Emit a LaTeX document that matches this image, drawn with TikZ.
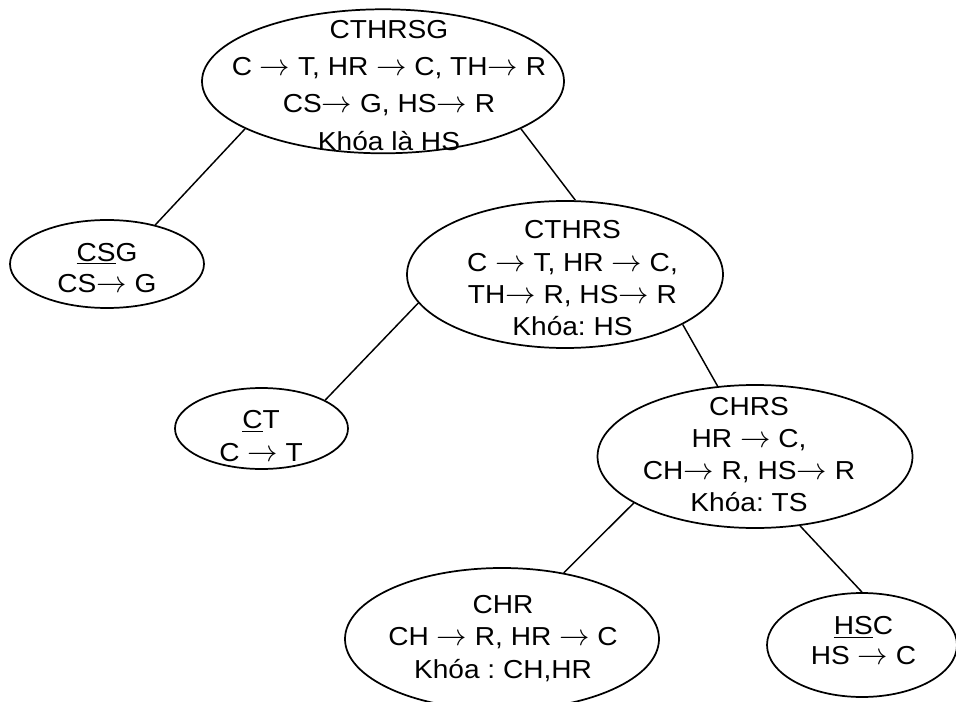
\documentclass[tikz,border=0pt]{standalone}
\usepackage{fontspec}
\setmainfont{Liberation Sans}[FakeStretch=1.08]
\usetikzlibrary{shapes.geometric}
\newcommand{\imp}{\scalebox{1.1}{$\rightarrow$}}
\frenchspacing
\begin{document}
\begin{tikzpicture}[x=0.75pt,y=-0.75pt,
  oval/.style 2 args={ellipse,draw,line width=1.3pt,inner sep=0pt,
    minimum width={#1*1.5pt},minimum height={#2*1.5pt}},
  txt/.style={align=center,inner sep=0pt,font=\fontsize{19.5}{#1}\selectfont},
  edge/.style={line width=1.1pt}]
\useasboundingbox (0,0) rectangle (956,702);

% decomposition tree: ellipses (half-axes given in px)
\node[oval={181}{72}]   (top)   at (383,81.3)  {};
\node[oval={97}{44}]    (csg)   at (107,264)   {};
\node[oval={158}{73.5}] (cthrs) at (565,274.5) {};
\node[oval={86.5}{40.5}](ct)    at (261.5,428.5) {};
\node[oval={157.5}{71.5}](chrs) at (755,456.5) {};
\node[oval={157}{71}]   (chr)   at (502,639)   {};
\node[oval={95}{52}]    (hsc)   at (862,645)   {};

% texts of the relations
\node[txt=28.1] (ttop) at (389,85.3)
  {CTHRSG\\C \imp{} T, HR \imp{} C, TH\imp{} R\\CS\imp{} G, HS\imp{} R\\Khóa là HS};
\node[txt=23.25] (tcsg) at (107,268)
  {\underline{CS}G\\CS\imp{} G};
\node[txt=24.2] (tcthrs) at (572.5,278.3)
  {CTHRS\\C \imp{} T, HR \imp{} C,\\TH\imp{} R, HS\imp{} R\\Khóa: HS};
\node[txt=24.4] (tct) at (261,436)
  {\underline{C}T\\C \imp{} T};
\node[txt=24.2] (tchrs) at (749,454.5)
  {CHRS\\HR \imp{} C,\\CH\imp{} R, HS\imp{} R\\Khóa: TS};
\node[txt=24.4] (tchr) at (503,638.3)
  {CHR\\CH \imp{} R, HR \imp{} C\\Khóa : CH,HR};
\node[txt=22.5] (thsc) at (863.5,640.8)
  {\underline{HS}C\\HS \imp{} C};

% connectors
\draw[edge] (top.199.8)   -- (csg.39.4);
\draw[edge] (top.341.1)   -- (cthrs.82.9);
\draw[edge] (cthrs.191.1) -- (ct.24.7);
\draw[edge] (cthrs.337)   -- (chrs.118.2);
\draw[edge] (chrs.201.8)  -- (chr.47.3);
\draw[edge] (chrs.303.7)  -- (hsc.90);
\end{tikzpicture}
\end{document}
